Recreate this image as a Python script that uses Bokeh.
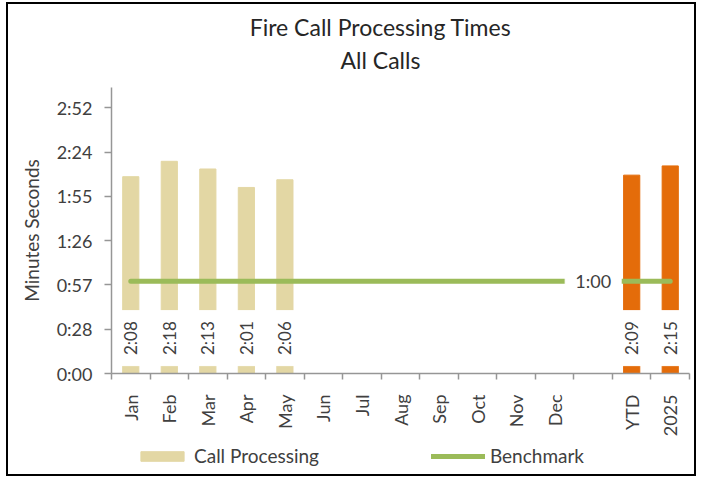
from math import pi
from bokeh.plotting import figure
from bokeh.layouts import column
from bokeh.models import Range1d, FixedTicker, Legend, LegendItem
from bokeh.core.properties import value
from bokeh.embed import file_html
from bokeh.resources import INLINE

# ---------------- data ----------------
CATEGORIES = ["Jan", "Feb", "Mar", "Apr", "May", "Jun", "Jul", "Aug", "Sep",
              "Oct", "Nov", "Dec", "", "YTD", "2025"]
MONTHS_WITH_DATA = ["Jan", "Feb", "Mar", "Apr", "May"]
MONTH_SECONDS = [128, 138, 133, 121, 126]          # 2:08 2:18 2:13 2:01 2:06
MONTH_LABELS = ["2:08", "2:18", "2:13", "2:01", "2:06"]
SUMMARY_CATS = ["YTD", "2025"]
SUMMARY_SECONDS = [129, 135]                       # 2:09 2:15
SUMMARY_LABELS = ["2:09", "2:15"]
BENCHMARK_SECONDS = 60
BENCHMARK_LABEL = "1:00"
BENCHMARK_LABEL_CAT = ""
Y_TICKS = [0.0, 28.8, 57.6, 86.4, 115.2, 144.0, 172.8]
Y_TICK_LABELS = ["0:00", "0:28", "0:57", "1:26", "1:55", "2:24", "2:52"]
TITLE_LINES = ["Fire Call Processing Times", "All Calls"]
LEGEND_LABELS = ["Call Processing", "Benchmark"]

# ---------------- style ----------------
FONT = "Lato"
TXT = "#404040"
TAN = "#E3D7A4"
ORANGE = "#E46C0A"
GREEN = "#9BBB59"
AXIS = "#969696"
Y_END = 186.0

W = 686
H_HEAD, H_MAIN, H_LEG = 83, 352, 35
ML, MR, MT, MB = 103, 5, 0, 64
N = len(CATEGORIES)


def xpos(cat):
    return CATEGORIES.index(cat) + 0.5


def blank_fig(h):
    # frame aligned with the main chart; data x == canvas pixel x
    f = figure(width=W, height=h, output_backend="svg", toolbar_location=None,
               x_range=Range1d(ML, W - MR), y_range=Range1d(0, h),
               x_axis_location=None, y_axis_location=None,
               min_border_left=ML, min_border_right=MR,
               min_border_top=0, min_border_bottom=0)
    f.outline_line_color = None
    f.grid.visible = False
    f.background_fill_color = "white"
    f.border_fill_color = "white"
    return f


# ---------------- header (titles) ----------------
head = blank_fig(H_HEAD)
head.text(x=[372, 372], y=[61, 28], text=TITLE_LINES, text_align="center",
          text_baseline="middle", text_color="#262626",
          text_font=value(FONT), text_font_size="23px")

# ---------------- main chart ----------------
p = figure(width=W, height=H_MAIN, output_backend="svg", toolbar_location=None,
           x_range=Range1d(0, N), y_range=Range1d(0, Y_END),
           min_border_left=ML, min_border_right=MR, min_border_top=MT,
           min_border_bottom=MB)
p.outline_line_color = None
p.grid.visible = False
p.background_fill_color = "white"
p.border_fill_color = "white"

mx = [xpos(c) for c in MONTHS_WITH_DATA]
sx = [xpos(c) for c in SUMMARY_CATS]
p.vbar(x=mx, top=MONTH_SECONDS, width=0.42, color=TAN)
p.vbar(x=sx, top=SUMMARY_SECONDS, width=0.42, color=ORANGE)

# data labels with white boxes
LBL_Y = 23.0
all_x = mx + sx
all_lbl = MONTH_LABELS + SUMMARY_LABELS
p.rect(x=all_x, y=[LBL_Y] * len(all_x), width=0.6, height=55,
       height_units="screen", color="white")
p.text(x=all_x, y=[LBL_Y] * len(all_x), text=all_lbl, angle=pi / 2,
       text_align="center", text_baseline="middle", text_color=TXT,
       text_font=value(FONT), text_font_size="17px")

# benchmark line
bx = [xpos(c) for c in CATEGORIES]
p.line(x=bx, y=[BENCHMARK_SECONDS] * N, line_color=GREEN, line_width=5,
       line_cap="round")
blx = xpos(BENCHMARK_LABEL_CAT)
p.rect(x=[blx], y=[BENCHMARK_SECONDS], width=56, height=12,
       width_units="screen", height_units="screen", color="white")
p.text(x=[blx], y=[BENCHMARK_SECONDS], text=[BENCHMARK_LABEL],
       text_align="center", text_baseline="middle", text_color=TXT,
       text_font=value(FONT), text_font_size="18px")

xa = p.xaxis[0]
xa.ticker = FixedTicker(ticks=bx, minor_ticks=list(range(N + 1)))
xa.major_label_overrides = {x: c for x, c in zip(bx, CATEGORIES)}
xa.major_label_orientation = pi / 2
xa.major_tick_out = 0
xa.major_tick_in = 0
xa.minor_tick_out = 6
xa.minor_tick_in = 0
xa.major_label_standoff = 15
xa.axis_line_color = AXIS
xa.axis_line_width = 1.5
xa.minor_tick_line_color = AXIS
xa.minor_tick_line_width = 1.5
xa.major_label_text_font = FONT
xa.major_label_text_font_size = "18px"
xa.major_label_text_color = TXT

ya = p.yaxis[0]
ya.ticker = FixedTicker(ticks=Y_TICKS, minor_ticks=[])
ya.major_label_overrides = {t: l for t, l in zip(Y_TICKS, Y_TICK_LABELS)}
ya.major_tick_out = 7
ya.major_tick_in = 0
ya.major_label_standoff = 12
ya.axis_line_color = AXIS
ya.axis_line_width = 1.5
ya.major_tick_line_color = AXIS
ya.major_tick_line_width = 1.5
ya.major_label_text_font = FONT
ya.major_label_text_font_size = "18px"
ya.major_label_text_color = TXT
ya.axis_label = "Minutes Seconds"
ya.axis_label_text_font = FONT
ya.axis_label_text_font_size = "19px"
ya.axis_label_text_font_style = "normal"
ya.axis_label_text_color = TXT
ya.axis_label_standoff = 11

# ---------------- legend strip ----------------
# zero-size proxy renderers: they draw nothing, but give the legend its swatches
leg = blank_fig(H_LEG)
lr_bar = leg.vbar(x=[ML], top=[0], width=0, color=TAN)
lr_line = leg.line(x=[ML], y=[0], line_color=GREEN, line_width=5,
                   line_cap="round")
legend = Legend(items=[LegendItem(label=LEGEND_LABELS[0], renderers=[lr_bar]),
                       LegendItem(label=LEGEND_LABELS[1], renderers=[lr_line])],
                orientation="horizontal", location=(24, 7),
                glyph_width=54, glyph_height=12, label_standoff=5, spacing=112,
                padding=0, margin=0, border_line_alpha=0,
                background_fill_alpha=0, label_text_font=FONT,
                label_text_font_size="19px", label_text_color=TXT)
leg.add_layout(legend, "center")

layout = column(head, p, leg, spacing=0)
layout.styles = {"border": "2px solid #000000", "margin-left": "6px",
                 "margin-top": "2px", "background-color": "white"}

open("out.html", "w").write(file_html(layout, INLINE))
